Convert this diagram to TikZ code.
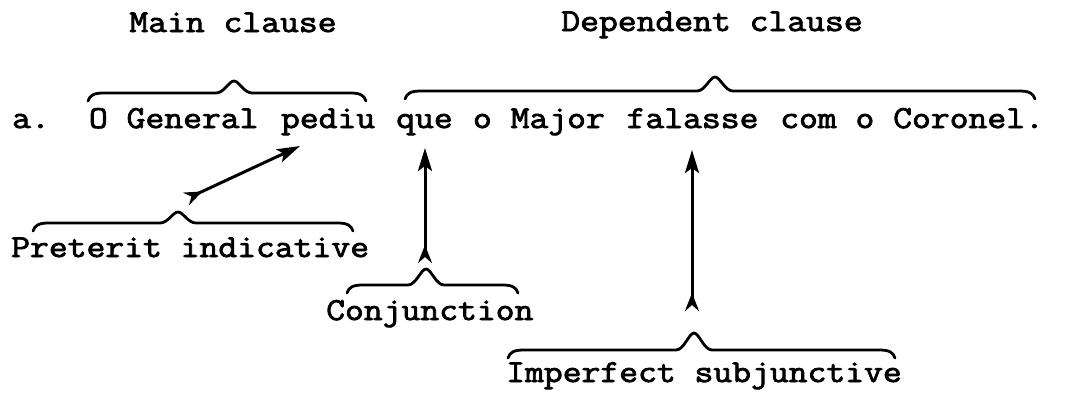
\documentclass[tikz,border=0pt]{standalone}
\usepackage{fontspec}
\newfontfamily\tw[FakeStretch=1.143,FakeBold=2.5]{Latin Modern Mono}
\usetikzlibrary{arrows.meta}
\tikzset{
  lbl/.style={font=\tw\fontsize{32}{36}\selectfont, inner sep=0pt, anchor=base west},
  ttl/.style={font=\tw\fontsize{32}{36}\selectfont, inner sep=0pt, anchor=base},
  brc/.style={line width=2.8pt, line cap=round, line join=round},
  arr/.style={line width=3pt,
    arrows={Stealth[reversed,length=18pt,width=14pt,inset=6pt]-Stealth[length=23pt,width=14pt,inset=5pt]}}
}
\newcommand\mybrace[5]{%
  \draw[brc] (#1,#4+8) .. controls (#1+2,#4+2) and (#1+6,#4) .. (#1+16,#4)
    -- (#3-18,#4) .. controls (#3-10,#4) and (#3-5,#4-#5) .. (#3,#4-#5)
    .. controls (#3+5,#4-#5) and (#3+10,#4) .. (#3+18,#4)
    -- (#2-16,#4) .. controls (#2-6,#4) and (#2-2,#4+2) .. (#2,#4+8);}
\begin{document}
\begin{tikzpicture}[x=1pt,y=-1pt]
\useasboundingbox (0,0) rectangle (1069,392);
% titles
\node[ttl] (main) at (233,32) {Main clause};
\node[ttl] (dep) at (712,31) {Dependent clause};
% sentence
\node[lbl] (a) at (12,128) {a.};
\node[lbl] (ogen) at (88.8,128) {O General};
\node[lbl] (pediu) at (280.8,128) {pediu};
\node[lbl] (que) at (396,128) {que};
\node[lbl] (omaj) at (472.8,128) {o Major};
\node[lbl] (fal) at (626.4,128) {falasse};
\node[lbl] (com) at (780,128) {com o Coronel.};
% bottom labels
\node[lbl] (pret) at (11,257) {Preterit indicative};
\node[lbl] (conj) at (326,320) {Conjunction};
\node[lbl] (impf) at (506,382) {Imperfect subjunctive};
% braces
\mybrace{88}{366}{234}{93}{12}
\mybrace{405}{1035}{715}{91}{14}
\mybrace{33}{353}{178}{223}{11}
\mybrace{347}{518}{426}{285}{16}
\mybrace{508}{895}{694}{350}{17}
% arrow end points
\coordinate (pretS) at (186,199);
\coordinate (pediuT) at (300,146);
\coordinate (conjS) at (425,263);
\coordinate (queT) at (425,148);
\coordinate (impfS) at (692,311);
\coordinate (falT) at (692,150);
% arrows
\draw[arr] (pretS) -- (pediuT);
\draw[arr] (conjS) -- (queT);
\draw[arr] (impfS) -- (falT);
\end{tikzpicture}
\end{document}
